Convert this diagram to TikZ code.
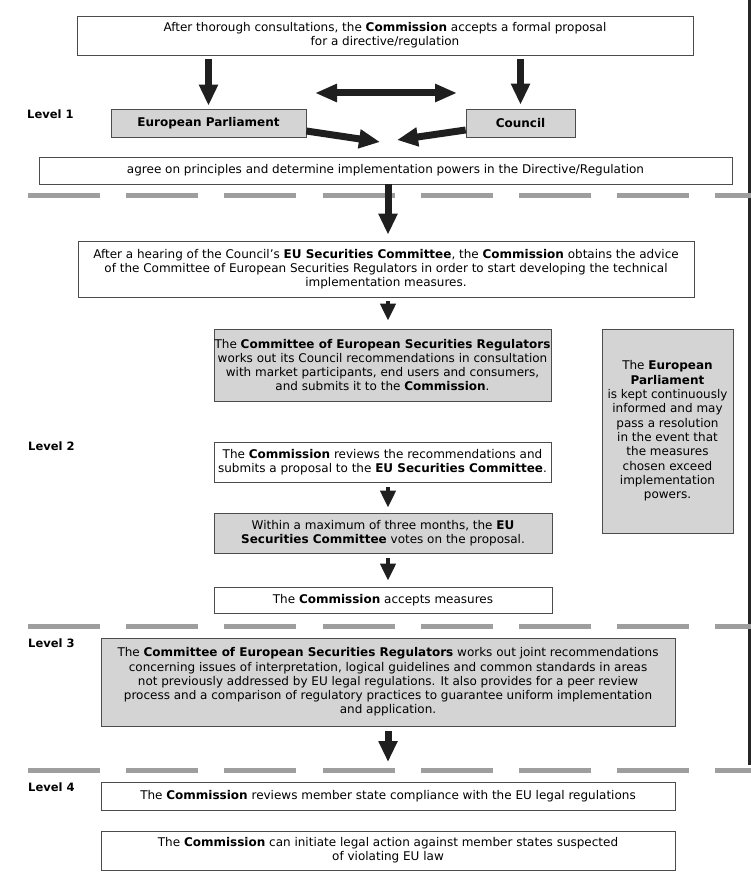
\documentclass[tikz,border=0pt]{standalone}
\usepackage{fontspec}
\setmainfont{DejaVu Sans}
\usetikzlibrary{arrows.meta}
\tikzset{
  box/.style={draw=black!70, line width=0.7pt, align=center, inner sep=0pt,
    font=\fontsize{12}{14.3}\selectfont},
  graybox/.style={box, fill=black!17},
  lvl/.style={anchor=west, inner sep=0pt, font=\fontsize{11.5}{14.3}\selectfont\bfseries},
  bigarrow/.style={draw=black!88, line width=7pt, -{Triangle[width=18pt,length=21pt]}},
  smallarrow/.style={draw=black!88, line width=4pt, -{Triangle[width=15pt,length=17pt]}},
  sep/.style={draw=black!38, line width=5pt, dash pattern=on 72pt off 26.2pt}
}
\begin{document}
\begin{tikzpicture}[x=1pt,y=-1pt]
\useasboundingbox (0,0) rectangle (751,882);
% scan border on the right
\fill[black!85] (748,0) rectangle (751,765);
% separators
\draw[sep] (28,196) -- (751,196);
\draw[sep] (28,626) -- (751,626);
\draw[sep] (28,770) -- (751,770);
% level labels
\node[lvl] (l1) at (27,114) {Level 1};
\node[lvl] (l2) at (28,446) {Level 2};
\node[lvl] (l3) at (28,643) {Level 3};
\node[lvl] (l4) at (28,787) {Level 4};
% boxes
\node[box, minimum width=616pt, minimum height=39pt] (top) at (385,35.5)
  {After thorough consultations, the \textbf{Commission} accepts a formal proposal\\for a directive/regulation};
\node[graybox, minimum width=195pt, minimum height=28pt] (ep) at (208.5,123)
  {\textbf{European Parliament}};
\node[graybox, minimum width=109pt, minimum height=28pt] (council) at (520.5,123)
  {\textbf{Council}};
\node[box, minimum width=693pt, minimum height=27pt] (agree) at (385.5,170.5)
  {agree on principles and determine implementation powers in the Directive/Regulation};
\node[box, minimum width=616pt, minimum height=56pt] (hearing) at (386,269)
  {After a hearing of the Council’s \textbf{EU Securities Committee}, the \textbf{Commission} obtains the advice\\of the Committee of European Securities Regulators in order to start developing the technical\\implementation measures.};
\node[graybox, minimum width=337pt, minimum height=72pt] (cesr) at (382.5,365)
  {The \textbf{Committee of European Securities Regulators}\\works out its Council recommendations in consultation\\with market participants, end users and consumers,\\and submits it to the \textbf{Commission}.};
\node[graybox, minimum width=131pt, minimum height=204pt] (epinf) at (667.5,431)
  {The \textbf{European}\\\textbf{Parliament}\\is kept continuously\\informed and may\\pass a resolution\\in the event that\\the measures\\chosen exceed\\implementation\\powers.};
\node[box, minimum width=337pt, minimum height=40pt] (review) at (382.5,462)
  {The \textbf{Commission} reviews the recommendations and\\submits a proposal to the \textbf{EU Securities Committee}.};
\node[graybox, minimum width=338pt, minimum height=40pt] (vote) at (383,533)
  {Within a maximum of three months, the \textbf{EU}\\\textbf{Securities Committee} votes on the proposal.};
\node[box, minimum width=338pt, minimum height=26pt] (accept) at (383,600)
  {The \textbf{Commission} accepts measures};
\node[graybox, minimum width=574pt, minimum height=88pt] (joint) at (388,682)
  {The \textbf{Committee of European Securities Regulators} works out joint recommendations\\concerning issues of interpretation, logical guidelines and common standards in areas\\not previously addressed by EU legal regulations. It also provides for a peer review\\process and a comparison of regulatory practices to guarantee uniform implementation\\and application.};
\node[box, minimum width=574pt, minimum height=28pt] (compl) at (388,796)
  {The \textbf{Commission} reviews member state compliance with the EU legal regulations};
\node[box, minimum width=574pt, minimum height=39pt] (legal) at (388,850.5)
  {The \textbf{Commission} can initiate legal action against member states suspected\\of violating EU law};
% free ends
\coordinate (dl) at (315,93);
\coordinate (dr) at (457,93);
\coordinate (ept) at (380,142);
\coordinate (cot) at (397,140);
\coordinate (lvl4in) at (388,762);
% connectors
\draw[bigarrow, shorten <=4pt, shorten >=3pt] (top.south -| ep.north) -- (ep.north);
\draw[bigarrow, shorten <=4pt, shorten >=4pt] (top.south -| council.north) -- (council.north);
\draw[draw=black!88, line width=7pt, {Triangle[width=17pt,length=22pt]}-{Triangle[width=17pt,length=22pt]}] (dl) -- (dr);
\draw[bigarrow] ([yshift=-8pt]ep.east) -- (ept);
\draw[bigarrow] ([yshift=-7pt]council.west) -- (cot);
\draw[bigarrow, shorten >=6pt] ([xshift=2.5pt]agree.south) -- ([xshift=2pt]hearing.north);
\draw[smallarrow, shorten <=4pt, shorten >=8pt] (hearing.south -| 388,0) -- (cesr.north -| 388,0);
\draw[smallarrow, shorten <=5pt, shorten >=5pt] (review.south -| 388,0) -- (vote.north -| 388,0);
\draw[smallarrow, shorten <=5pt, shorten >=6pt] (vote.south -| 388,0) -- (accept.north -| 388,0);
\draw[bigarrow, shorten <=5pt] (joint.south) -- (lvl4in);
\end{tikzpicture}
\end{document}
